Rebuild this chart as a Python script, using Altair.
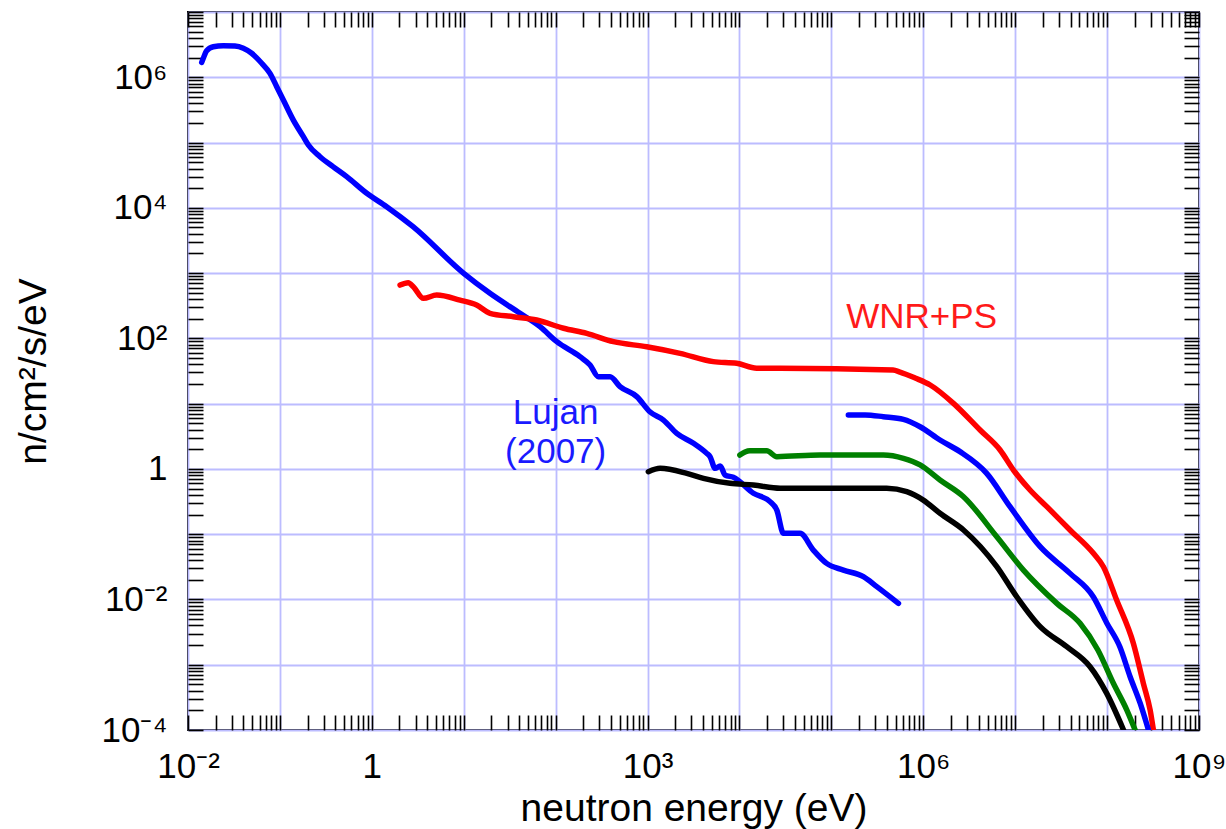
import altair as alt
import pandas as pd

# ---- data (energy in eV, flux in n/cm^2/s/eV) ----
lujan_E = [1.41e-2, 1.466e-2, 1.596e-2, 1.884e-2, 2.42e-2, 3.24e-2, 4.0e-2, 4.93e-2, 6.34e-2, 7.8e-2,
           9.23e-2, 0.109, 0.140, 0.180, 0.204, 0.273, 0.378, 0.533, 0.881, 1.45,
           2.81, 10, 19.3, 41.0, 67.6, 103, 184, 237, 292, 391,
           502, 764, 1060, 1490, 2080, 3160, 4410, 4790, 5430, 6170,
           6980, 8590, 1.42e4, 2.15e4, 2.55e4, 3.01e4, 4.56e4, 6.37e4, 8.89e4, 1.35e5,
           2.23e5, 3.12e5, 5.37e5]
lujan_F = [1.69e6, 1.95e6, 2.55e6, 2.94e6, 3.05e6, 3.01e6, 2.78e6, 2.33e6, 1.64e6, 1.15e6,
           7.18e5, 4.49e5, 2.21e5, 1.23e5, 9.16e4, 6.07e4, 4.27e4, 3.00e4, 1.67e4, 1.04e4,
           5.13e3, 991, 490, 242, 151, 88.9, 52.4, 39.1, 25.8, 25.8,
           18.2, 12.8, 7.52, 5.61, 3.51, 2.47, 1.73, 1.54, 1.02, 1.11,
           0.805, 0.743, 0.423, 0.315, 0.234, 0.103, 0.103, 0.0571, 0.0357, 0.0282,
           0.0223, 0.0157, 0.0087]

wnr_E = [2.03, 2.49, 2.83, 3.64, 5.08, 9.12, 13.8, 19.3, 34.7, 62.2,
         122, 218, 425, 979, 2260, 5200, 9330, 1.54e4, 2.77e4, 4.69e5,
         5.58e5, 8.15e5, 1.19e6, 2.13e6, 4.15e6, 6.85e6, 9.57e6, 1.45e7, 2.21e7, 3.95e7,
         7.10e7, 9.12e7, 1.27e8, 1.93e8, 2.48e8, 2.94e8, 3.19e8]
wnr_F = [656, 713, 618, 410, 461, 386, 324, 242, 215, 191,
         143, 119, 88.9, 74.5, 59.0, 44.0, 41.5, 34.8, 34.8, 32.7,
         30.5, 24.7, 19.3, 10.1, 3.94, 1.95, 0.962, 0.475, 0.264, 0.116,
         0.0509, 0.0317, 0.0098, 2.13e-3, 5.19e-4, 2.02e-4, 1.0e-4]

blue2_E = [1.53e5, 2.33e5, 3.68e5, 6.08e5, 9.23e5, 1.52e6, 2.51e6, 4.90e6, 8.79e6, 1.87e7,
           3.95e7, 7.10e7, 9.91e7, 1.38e8, 1.78e8, 2.29e8, 2.82e8]
blue2_F = [6.70, 6.70, 6.31, 5.75, 4.43, 2.77, 1.84, 0.855, 0.264, 0.0643,
           0.0251, 0.0109, 4.37e-3, 1.87e-3, 6.55e-4, 2.57e-4, 1.0e-4]

green_E = [1.01e4, 1.15e4, 1.30e4, 1.98e4, 2.55e4, 7.53e4, 3.68e5, 6.08e5, 9.23e5, 1.52e6,
           2.74e6, 6.31e6, 1.23e7, 2.84e7, 5.08e7, 7.94e7, 1.17e8, 1.64e8, 2.02e8]
green_F = [1.63, 1.82, 1.90, 1.90, 1.54, 1.63, 1.63, 1.45, 1.15, 0.676,
           0.375, 0.0914, 0.0282, 8.71e-3, 4.31e-3, 1.68e-3, 5.19e-4, 2.02e-4, 1.0e-4]

black_E = [1020, 1370, 2670, 4060, 7910, 1.42e4, 2.77e4, 4.00e5, 6.61e5, 1.0e6,
           1.52e6, 2.74e6, 6.31e6, 1.04e7, 1.87e7, 3.64e7, 6.53e7, 9.91e7, 1.51e8]
black_F = [0.906, 1.02, 0.855, 0.718, 0.601, 0.566, 0.505, 0.505, 0.448, 0.333,
           0.209, 0.116, 0.0318, 0.0110, 3.83e-3, 1.89e-3, 9.33e-4, 3.64e-4, 1.0e-4]

series_names = ["Lujan (2007)", "WNR+PS", "WNR blue", "WNR green", "WNR black"]
series_colors = ["#0000ff", "#ff0000", "#0000ff", "#008000", "#000000"]

# annotations
ann_text = ["WNR+PS", "Lujan", "(2007)"]
ann_E = [9.6e5, 100, 100]
ann_F = [142, 4.88, 1.23]
ann_color = ["#ff1a1a", "#1a1aff", "#1a1aff"]

x_label_map = {-2: "10⁻²", 0: "1", 3: "10³", 6: "10⁶", 9: "10⁹"}
y_label_map = {-4: "10⁻⁴", -2: "10⁻²", 0: "1", 2: "10²", 4: "10⁴", 6: "10⁶"}

# ---- build tables ----
rows = []
for name, E, F in zip(series_names,
                      [lujan_E, wnr_E, blue2_E, green_E, black_E],
                      [lujan_F, wnr_F, blue2_F, green_F, black_F]):
    for i, (e, f) in enumerate(zip(E, F)):
        rows.append({"series": name, "E": e, "F": f, "order": i})
df = pd.DataFrame(rows)
ann_df = pd.DataFrame({"text": ann_text, "E": ann_E, "F": ann_F, "color": ann_color})

x_decades = [10.0 ** k for k in range(-2, 10)]
y_decades = [10.0 ** k for k in range(-4, 8)]
x_minor = [m * 10.0 ** k for k in range(-2, 9) for m in range(1, 10)] + [1e9]
y_minor = [m * 10.0 ** k for k in range(-4, 7) for m in range(1, 10)] + [1e7]


def label_expr(mapping):
    e = "round(log(datum.value)/LN10)"
    parts = [f"({e}=={k}) ? '{v}' : " for k, v in mapping.items()]
    return "".join(parts) + "''"


FONT = "Liberation Sans"
GRID = "#bcbcff"

xs = alt.Scale(type="log", domain=[1e-2, 1e9], nice=False)
ys = alt.Scale(type="log", domain=[1e-4, 1e7], nice=False)

color = alt.Color("series:N", scale=alt.Scale(domain=series_names, range=series_colors), legend=None)


def tick_axis(orient, values):
    return alt.Axis(orient=orient, values=values, labels=False, grid=False, domain=False,
                    ticks=True, tickSize=15, tickColor="black", tickWidth=1.6,
                    offset=-15, title=None, zindex=0)


main = alt.Chart(df).mark_line(strokeWidth=5.5, strokeJoin="round", strokeCap="round",
                               clip=True, interpolate="monotone").encode(
    x=alt.X("E:Q", scale=xs, axis=alt.Axis(
        orient="bottom", values=x_decades, grid=True, gridColor=GRID, gridWidth=1.8,
        ticks=False, tickSize=0, domain=False, labelExpr=label_expr(x_label_map),
        labelFont=FONT, labelFontSize=35, labelColor="black", labelPadding=19,
        labelFlush=False, labelOverlap=False,
        title="neutron energy (eV)", titleFont=FONT, titleFontSize=39, titleFontWeight="normal",
        titleColor="black", titleY=90, titleBaseline="alphabetic", zindex=0)),
    y=alt.Y("F:Q", scale=ys, axis=alt.Axis(
        orient="left", values=y_decades, grid=True, gridColor=GRID, gridWidth=1.8,
        ticks=False, tickSize=0, domain=False, labelExpr=label_expr(y_label_map),
        labelFont=FONT, labelFontSize=35, labelColor="black", labelPadding=21,
        labelFlush=False, labelOverlap=False,
        title="n/cm²/s/eV", titleFont=FONT, titleFontSize=39, titleFontWeight="normal",
        titleColor="black", titleX=-143, titleAngle=-90, titleBaseline="alphabetic", zindex=0)),
    color=color,
    detail="series:N",
    order="order:Q",
)

ticks_bl = alt.Chart(df).mark_line(strokeOpacity=0).encode(
    x=alt.X("E:Q", scale=xs, axis=tick_axis("bottom", x_minor)),
    y=alt.Y("F:Q", scale=ys, axis=tick_axis("left", y_minor)),
    detail="series:N",
)
ticks_tr = alt.Chart(df).mark_line(strokeOpacity=0).encode(
    x=alt.X("E:Q", scale=xs, axis=tick_axis("top", x_minor)),
    y=alt.Y("F:Q", scale=ys, axis=tick_axis("right", y_minor)),
    detail="series:N",
)

ann = alt.Chart(ann_df).mark_text(font=FONT, fontSize=35, align="center", baseline="alphabetic").encode(
    x=alt.X("E:Q", scale=xs, axis=None),
    y=alt.Y("F:Q", scale=ys, axis=None),
    text="text:N",
    color=alt.Color("color:N", scale=None),
)

chart = alt.layer(main, ticks_bl, ticks_tr, ann).resolve_axis(
    x="independent", y="independent"
).resolve_scale(color="independent").properties(
    width=1011, height=718,
    autosize=alt.AutoSizeParams(type="none"),
    padding={"left": 188, "top": 12, "right": 27, "bottom": 99},
).configure_view(stroke="black", strokeWidth=2)

chart.save("out.html", embed_options={"renderer": "svg", "actions": False})
